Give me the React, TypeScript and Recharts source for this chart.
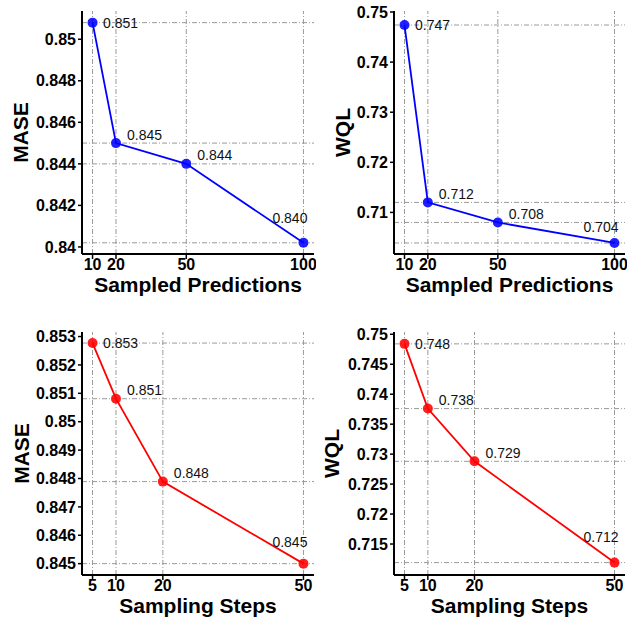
import React from 'react';
import { LineChart, Line, XAxis, YAxis, ReferenceLine } from 'recharts';

// values
const predCounts = [10, 20, 50, 100];
const predMase = [0.8508, 0.845, 0.844, 0.8402];
const predWql = [0.7474, 0.712, 0.708, 0.7039];

const stepCounts = [5, 10, 20, 50];
const stepMase = [0.85277, 0.85081, 0.84789, 0.845];
const stepWql = [0.7484, 0.7376, 0.7288, 0.7119];

const maseTicksTop = [0.84, 0.842, 0.844, 0.846, 0.848, 0.85];
const wqlTicksTop = [0.71, 0.72, 0.73, 0.74, 0.75];
const maseTicksBottom = [0.845, 0.846, 0.847, 0.848, 0.849, 0.85, 0.851, 0.852, 0.853];
const wqlTicksBottom = [0.715, 0.72, 0.725, 0.73, 0.735, 0.74, 0.745, 0.75];

const FONT = '"Liberation Sans", Arial, Helvetica, sans-serif';
const GRID = '#9a9a9a';

interface PanelProps {
  xs: number[];
  ys: number[];
  yTicks: number[];
  xDomain: [number, number];
  yDomain: [number, number];
  color: string;
  xTitle: string;
  yTitle: string;
  box: { x0: number; x1: number; y0: number; y1: number };
  yTitleDist: number;
  lastDy: number;
}

const fmtTick = (v: number) => String(Number(v.toFixed(3)));

const Panel: React.FC<PanelProps> = ({ xs, ys, yTicks, xDomain, yDomain, color, xTitle, yTitle, box, yTitleDist, lastDy }) => {
  const data = xs.map((x, i) => ({ x, y: ys[i] }));
  const n = data.length;
  const width = box.x1 - box.x0 + 82;
  const height = box.y1 - box.y0 + 10 + 44;

  const renderLabel = (p: any) => {
    const { x, y, value, index } = p;
    const first = index === 0;
    const last = index === n - 1;
    const dx = last ? 4 : first ? 10.5 : 11;
    const dy = last ? lastDy : first ? 5 : -3.5;
    return (
      <text
        key={`lbl-${index}`}
        x={x + dx}
        y={y + dy}
        textAnchor={last ? 'end' : 'start'}
        fontSize={14}
        fontFamily={FONT}
        fill="#111"
      >
        {Number(value).toFixed(3)}
      </text>
    );
  };

  return (
    <div style={{ position: 'absolute', left: box.x0 - 80, top: box.y0 - 10 }}>
      <LineChart width={width} height={height} data={data} margin={{ top: 10, right: 2, bottom: 0, left: 0 }}>
        <XAxis
          dataKey="x"
          type="number"
          domain={xDomain}
          ticks={xs}
          interval={0}
          height={44}
          tickSize={5}
          tickMargin={0}
          axisLine={{ stroke: '#000', strokeWidth: 2 }}
          tickLine={{ stroke: '#000', strokeWidth: 1.5 }}
          tick={{ fontSize: 16, fontWeight: 'bold', fill: '#000', fontFamily: FONT }}
          label={{
            content: (p: any) => (
              <text
                x={p.viewBox.x + p.viewBox.width / 2}
                y={p.viewBox.y + 38}
                textAnchor="middle"
                fontSize={21}
                fontWeight="bold"
                fontFamily={FONT}
                fill="#000"
              >
                {xTitle}
              </text>
            ),
          }}
        />
        <XAxis
          xAxisId="top"
          orientation="top"
          dataKey="x"
          type="number"
          domain={xDomain}
          height={0}
          tick={false}
          tickLine={false}
          axisLine={{ stroke: '#000', strokeWidth: 2 }}
        />
        <YAxis
          type="number"
          domain={yDomain}
          ticks={yTicks}
          interval={0}
          width={80}
          tickSize={4}
          tickMargin={2}
          tickFormatter={fmtTick}
          axisLine={{ stroke: '#000', strokeWidth: 2 }}
          tickLine={{ stroke: '#000', strokeWidth: 1.5 }}
          tick={{ fontSize: 16, fontWeight: 'bold', fill: '#000', fontFamily: FONT }}
          label={{
            content: (p: any) => {
              const cx = p.viewBox.x + p.viewBox.width - yTitleDist;
              const cy = p.viewBox.y + p.viewBox.height / 2;
              return (
                <text
                  x={cx}
                  y={cy}
                  transform={`rotate(-90, ${cx}, ${cy})`}
                  textAnchor="middle"
                  dominantBaseline="central"
                  fontSize={21}
                  fontWeight="bold"
                  fontFamily={FONT}
                  fill="#000"
                >
                  {yTitle}
                </text>
              );
            },
          }}
        />
        <YAxis
          yAxisId="right"
          orientation="right"
          type="number"
          domain={yDomain}
          width={0}
          tick={false}
          tickLine={false}
          axisLine={{ stroke: '#000', strokeWidth: 2 }}
        />
        {xs.map((x) => (
          <ReferenceLine key={`vx-${x}`} x={x} stroke={GRID} strokeWidth={1} strokeDasharray="5 2 1 2" />
        ))}
        {ys.map((y, i) => (
          <ReferenceLine key={`hy-${i}`} y={y} stroke={GRID} strokeWidth={1} strokeDasharray="5 2 1 2" />
        ))}
        <Line
          dataKey="y"
          stroke={color}
          strokeWidth={1.8}
          isAnimationActive={false}
          dot={{ r: 5, fill: color, fillOpacity: 0.88, stroke: color, strokeWidth: 0 }}
          activeDot={false}
          label={renderLabel}
        />
      </LineChart>
    </div>
  );
};

const App: React.FC = () => (
  <div
    style={{
      position: 'absolute',
      left: 0,
      top: 0,
      width: 627,
      height: 621,
      overflow: 'hidden',
      background: '#fff',
    }}
  >
    <Panel
      xs={predCounts}
      ys={predMase}
      yTicks={maseTicksTop}
      xDomain={[5.5, 104.5]}
      yDomain={[0.83966, 0.85136]}
      color="#0000ff"
      xTitle="Sampled Predictions"
      yTitle="MASE"
      box={{ x0: 82, x1: 314, y0: 11, y1: 254 }}
      yTitleDist={61.5}
      lastDy={-19.7}
    />
    <Panel
      xs={predCounts}
      ys={predWql}
      yTicks={wqlTicksTop}
      xDomain={[5.5, 104.5]}
      yDomain={[0.7017, 0.7502]}
      color="#0000ff"
      xTitle="Sampled Predictions"
      yTitle="WQL"
      box={{ x0: 394, x1: 625, y0: 11, y1: 254 }}
      yTitleDist={52}
      lastDy={-10.7}
    />
    <Panel
      xs={stepCounts}
      ys={stepMase}
      yTicks={maseTicksBottom}
      xDomain={[2.75, 52.25]}
      yDomain={[0.8446, 0.85316]}
      color="#ff0000"
      xTitle="Sampling Steps"
      yTitle="MASE"
      box={{ x0: 82, x1: 314, y0: 332, y1: 575 }}
      yTitleDist={61}
      lastDy={-17}
    />
    <Panel
      xs={stepCounts}
      ys={stepWql}
      yTicks={wqlTicksBottom}
      xDomain={[2.75, 52.25]}
      yDomain={[0.70983, 0.75038]}
      color="#ff0000"
      xTitle="Sampling Steps"
      yTitle="WQL"
      box={{ x0: 394, x1: 625, y0: 332, y1: 575 }}
      yTitleDist={62.5}
      lastDy={-21}
    />
  </div>
);

export default App;
